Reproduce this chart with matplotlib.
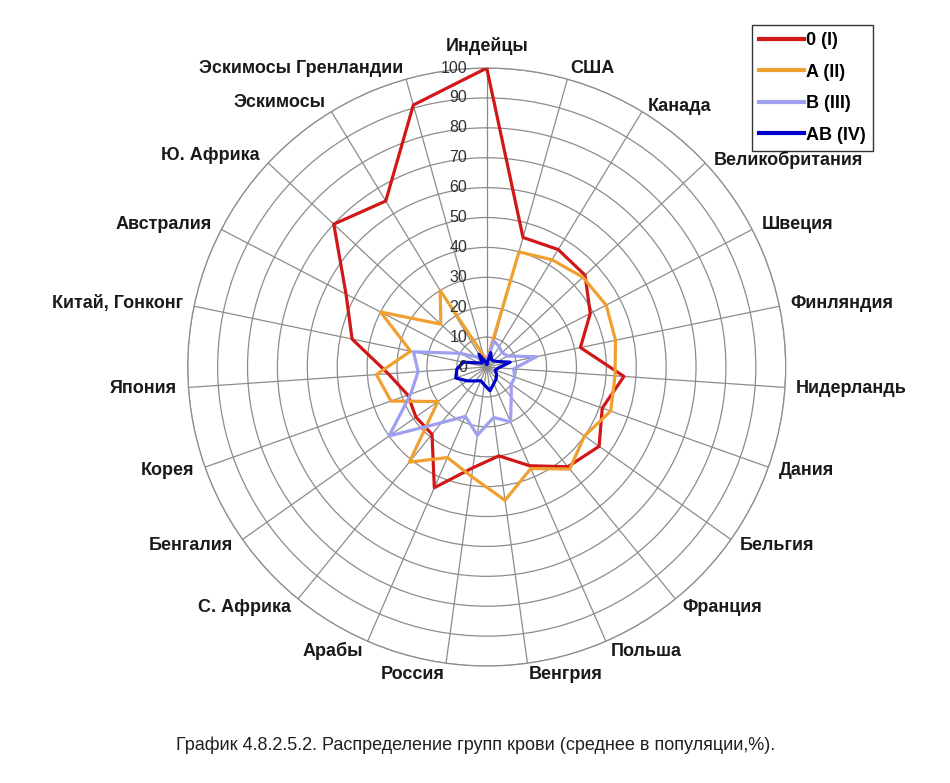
import numpy as np
import matplotlib
matplotlib.use("Agg")
import matplotlib.pyplot as plt

# categories, clockwise from the top
countries = [
    "Индейцы", "США", "Канада", "Великобритания", "Швеция", "Финляндия",
    "Нидерландь", "Дания", "Бельгия", "Франция", "Польша", "Венгрия",
    "Россия", "Арабы", "С. Африка", "Бенгалия", "Корея", "Япония",
    "Китай, Гонконг", "Австралия", "Ю. Африка", "Эскимосы", "Эскимосы Гренландии",
]

# blood group shares, % of population
group_0 = [100, 45, 46, 45, 39, 32, 46, 41, 46, 43, 36, 30,
           34, 44, 29, 29, 28, 33, 46, 53, 70, 65, 91]
group_a = [2, 40, 42, 44, 45, 44, 43, 44, 40, 44, 37, 45,
           37, 33, 41, 20, 34, 37, 26, 40, 21, 30, 4]
group_b = [2, 9, 8, 7, 8, 17, 9, 10, 10, 13, 20, 17,
           23, 18, 24, 40, 27, 23, 25, 10, 5, 3, 2]
group_ab = [1, 5, 3, 3, 4, 8, 4, 3, 4, 5, 6, 8,
            6, 5, 6, 8, 11, 10, 8, 3, 2, 5, 2]

series_names = ["0 (I)", "A (II)", "B (III)", "AB (IV)"]
series_colors = ["#d01818", "#f0a030", "#a0a0f0", "#0000c8"]
ring_values = list(range(0, 101, 10))

caption = "График 4.8.2.5.2. Распределение групп крови (среднее в популяции,%)."

fig = plt.figure(figsize=(9.5, 7.83), dpi=100)
ax = fig.add_axes([0.1976, 0.1494, 0.6295, 0.7637], projection="polar")
ax.set_theta_zero_location("N")
ax.set_theta_direction(-1)

n = len(countries)
angles = np.arange(n) * 2 * np.pi / n

grid_col = "#8c8c8c"
ax.set_ylim(0, 100)
ax.set_rgrids(ring_values[1:], labels=[""] * (len(ring_values) - 1))
ax.set_thetagrids(np.degrees(angles), labels=[""] * n)
ax.grid(True, color=grid_col, linewidth=0.9)
ax.spines["polar"].set_color(grid_col)
ax.spines["polar"].set_linewidth(0.9)
ax.tick_params(length=0)

# series
for vals, name, col in zip([group_0, group_a, group_b, group_ab], series_names, series_colors):
    th = np.append(angles, angles[0])
    rr = np.append(vals, vals[0])
    ax.plot(th, rr, color=col, linewidth=2.3, label=name, zorder=3)

# radial value labels to the left of the top spoke
for v in ring_values:
    ax.annotate(str(v), xy=(0, v), xytext=(-14, 0), textcoords="offset points",
                ha="right", va="center", fontsize=11.5, color="#303030",
                family="Liberation Sans", annotation_clip=False, zorder=4)

# category labels around the outside
for a, name in zip(angles, countries):
    s, c = np.sin(a), np.cos(a)
    if abs(s) < 0.05:
        ha = "center"
    elif s > 0:
        ha = "left"
    else:
        ha = "right"
    off = 16 if (abs(s) < 0.05 and c > 0) else 8
    dy = off * c
    if s > 0.5 and c > 0.5:
        dy -= 3   # sits a touch lower under the legend
    ax.annotate(name, xy=(a, 100), xytext=(off * s, dy), textcoords="offset points",
                ha=ha, va="center", fontsize=13, fontweight="bold", color="#1a1a1a",
                family="Liberation Sans", annotation_clip=False)

leg = fig.legend(loc="upper left", bbox_to_anchor=(0.7916, 0.968),
                 prop={"family": "Liberation Sans", "weight": "bold", "size": 13},
                 frameon=True, fancybox=False, edgecolor="black",
                 handlelength=2.5, handletextpad=0.1, labelspacing=0.8,
                 borderpad=0.4, borderaxespad=0)
leg.get_frame().set_linewidth(1.0)
leg.set_zorder(5)
for line in leg.get_lines():
    line.set_linewidth(3)

fig.text(476 / 950, 1 - 745 / 783, caption, ha="center", va="center",
         fontsize=13, color="#202020",
         family=["Liberation Sans Narrow", "Liberation Sans"])

fig.savefig("out.png", dpi=100, facecolor="white")
